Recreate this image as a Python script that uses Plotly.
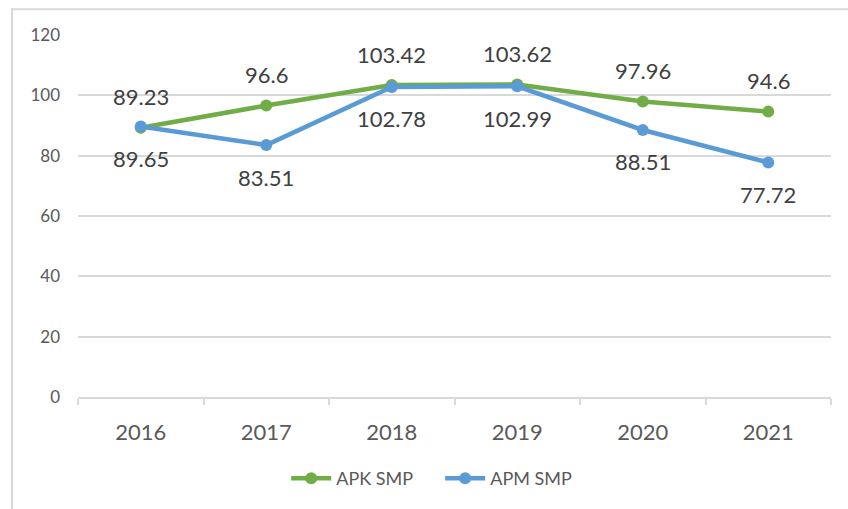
import plotly.graph_objects as go

years = ["2016", "2017", "2018", "2019", "2020", "2021"]
apk_smp = [89.23, 96.6, 103.42, 103.62, 97.96, 94.6]
apm_smp = [89.65, 83.51, 102.78, 102.99, 88.51, 77.72]
apk_labels = ["89.23", "96.6", "103.42", "103.62", "97.96", "94.6"]
apm_labels = ["89.65", "83.51", "102.78", "102.99", "88.51", "77.72"]
y_ticks = [0, 20, 40, 60, 80, 100, 120]

GREEN = "#70AD47"
BLUE = "#5B9BD5"
FONT = "Lato, 'Open Sans', sans-serif"

W, H = 848, 509
L, R, T, B = 78, 17, 35, 109

fig = go.Figure()
fig.add_trace(go.Scatter(
    x=years, y=apk_smp, mode="lines+markers", name="APK SMP",
    line=dict(color=GREEN, width=4.5),
    marker=dict(color=GREEN, size=12),
))
fig.add_trace(go.Scatter(
    x=years, y=apm_smp, mode="lines+markers", name="APM SMP",
    line=dict(color=BLUE, width=4.5),
    marker=dict(color=BLUE, size=12),
))

for i, (yv, t) in enumerate(zip(apk_smp, apk_labels)):
    fig.add_annotation(x=i, y=yv, text=t, showarrow=False, yshift=31,
                       font=dict(family=FONT, size=22, color="#404040"))
for i, (yv, t) in enumerate(zip(apm_smp, apm_labels)):
    fig.add_annotation(x=i, y=yv, text=t, showarrow=False, yshift=-32,
                       font=dict(family=FONT, size=22, color="#404040"))

pw = W - L - R
ph = H - T - B


def px_x(p):
    return (p - L) / pw


def px_y(p):
    return (H - B - p) / ph


# outer chart frame (decorative): left and top edges as thin filled bands
fig.add_shape(type="rect", xref="paper", yref="paper",
              x0=px_x(11), x1=px_x(13), y0=px_y(H + 5), y1=px_y(8),
              fillcolor="#D9D9D9", line=dict(width=0), layer="above")
fig.add_shape(type="rect", xref="paper", yref="paper",
              x0=px_x(11), x1=px_x(W + 5), y0=px_y(10), y1=px_y(8),
              fillcolor="#D9D9D9", line=dict(width=0), layer="above")

fig.update_layout(
    width=W, height=H,
    margin=dict(l=L, r=R, t=T, b=B, pad=0),
    paper_bgcolor="white", plot_bgcolor="white",
    showlegend=True,
    legend=dict(orientation="h", x=0.481, xanchor="center", y=-0.225, yanchor="middle",
                font=dict(family=FONT, size=18, color="#595959"),
                itemwidth=40, entrywidth=99, tracegroupgap=0,
                bgcolor="rgba(0,0,0,0)"),
    xaxis=dict(type="category", range=[-0.5, 5.5], showgrid=False,
               showline=True, linecolor="#D9D9D9", linewidth=1.5,
               ticks="outside", tickson="boundaries", ticklen=6, tickcolor="#D9D9D9",
               tickwidth=1.5, ticklabelstandoff=15,
               tickfont=dict(family=FONT, size=22, color="#595959"),
               zeroline=False, fixedrange=True),
    yaxis=dict(range=[0, 120], tickvals=y_ticks, showgrid=True, gridcolor="#D9D9D9",
               gridwidth=1.5, zeroline=False, showline=False, ticks="",
               ticklabelstandoff=17,
               tickfont=dict(family=FONT, size=17, color="#595959")),
)

fig.write_html("out.html", config={"displayModeBar": False},
               post_script="document.body.style.margin='0';document.body.style.overflow='hidden';")
